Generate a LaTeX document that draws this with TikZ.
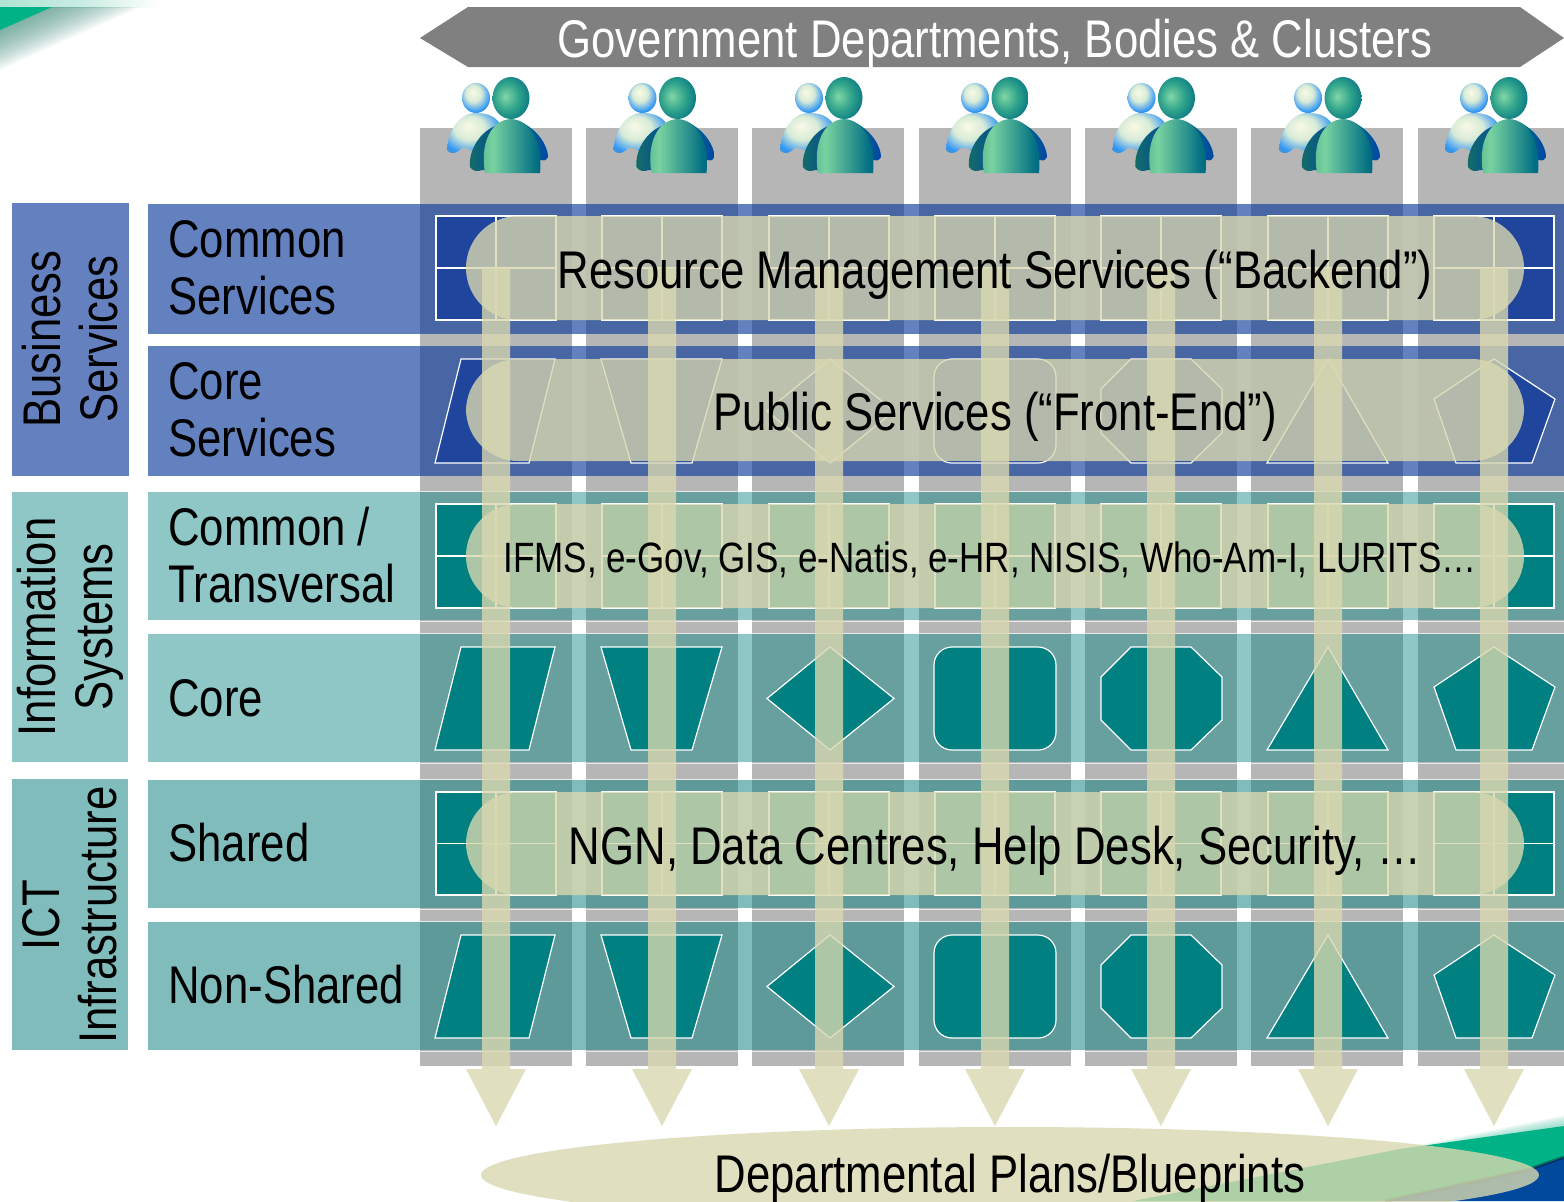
\documentclass[tikz,border=0pt]{standalone}
\usepackage{fontspec}
\setmainfont[FakeStretch=0.825]{Liberation Sans}
\usetikzlibrary{shapes.geometric}
\definecolor{bandblue}{RGB}{13,58,155}
\definecolor{bandteal}{RGB}{17,134,134}
\definecolor{bandtealb}{RGB}{17,130,130}
\definecolor{lblblue}{RGB}{100,128,191}
\definecolor{lblteal}{RGB}{143,198,198}
\definecolor{lblteal2}{RGB}{128,188,188}
\definecolor{colgray}{RGB}{182,182,182}
\definecolor{shblue}{RGB}{31,69,156}
\definecolor{shteal}{RGB}{0,128,128}
\definecolor{beige}{RGB}{217,216,176}
\definecolor{topgray}{RGB}{128,128,128}
\definecolor{cornergreen}{RGB}{0,178,134}
\definecolor{cornerblue}{RGB}{0,72,155}
\definecolor{stripgreen}{RGB}{176,228,212}
\definecolor{fa}{RGB}{130,215,165}
\definecolor{fb}{RGB}{50,165,140}
\definecolor{fc}{RGB}{0,110,130}
\definecolor{fd}{RGB}{0,70,165}
\definecolor{fe}{RGB}{0,60,110}
\definecolor{ba}{RGB}{250,250,230}
\definecolor{bb}{RGB}{215,235,215}
\definecolor{bc}{RGB}{50,150,245}
\definecolor{bd}{RGB}{100,135,120}
\definecolor{be}{RGB}{110,115,80}
\definecolor{armmid}{RGB}{120,215,165}
\definecolor{armdark}{RGB}{20,110,100}
\definecolor{bodyleft}{RGB}{30,130,110}
\definecolor{bodymid}{RGB}{120,210,160}
\definecolor{bodyright}{RGB}{0,60,150}
\pgfdeclareradialshading{frontball}{\pgfpoint{-8bp}{2bp}}{color(0bp)=(fa); color(16bp)=(fb); color(34bp)=(fc); color(52bp)=(fd); color(70bp)=(fe)}
\pgfdeclareradialshading{backball}{\pgfpoint{-6bp}{10bp}}{color(0bp)=(ba); color(14bp)=(bb); color(28bp)=(bc); color(44bp)=(bd); color(60bp)=(be)}
\pgfdeclarehorizontalshading{bodyshade}{100bp}{color(0bp)=(bodyleft); color(35bp)=(bodymid); color(70bp)=(fc); color(100bp)=(bodyright)}
\tikzset{
  band/.style={fill=#1,fill opacity=.64,draw=none},
  tband/.style={fill=#1,fill opacity=.47,draw=none},
  tbandb/.style={fill=#1,fill opacity=.534,draw=none},
  sideblock/.style={fill=#1,draw=none},
  cellshape/.style={fill=#1,draw=white,line width=.6pt},
  pill/.style={fill=beige,fill opacity=.8,draw=none,rounded corners=26pt},
  flow/.style={fill=beige,fill opacity=.8,draw=none},
  big/.style={font=\fontsize{26.5}{28.5}\selectfont,inner sep=0pt},
  small/.style={font=\fontsize{21.2}{24}\selectfont,inner sep=0pt},
  rowlabel/.style={big,anchor=west,align=left},
  sidelabel/.style={big,rotate=90,align=center},
}
\newcommand{\gridcell}[4]{%
  \draw[cellshape=#4] (#1-60,#2) rectangle (#1+60,#3);
  \draw[white,line width=.6pt] (#1,#2) -- (#1,#3) (#1-60,{(#2+#3)/2}) -- (#1+60,{(#2+#3)/2});}
\newcommand{\corerow}[3]{%
  \draw[cellshape=#3] (461,#1) -- (555,#1) -- (529,#2) -- (435,#2) -- cycle;
  \draw[cellshape=#3] (601,#1) -- (722,#1) -- (692,#2) -- (631,#2) -- cycle;
  \draw[cellshape=#3] (830,#1) -- (894,{(#1+#2)/2}) -- (830,#2) -- (767,{(#1+#2)/2}) -- cycle;
  \draw[cellshape=#3,rounded corners=9pt] (934,#1) rectangle (1056,#2);
  \draw[cellshape=#3] (1131,#1) -- (1191,#1) -- (1222,#1+30) -- (1222,#2-30) -- (1191,#2) -- (1131,#2) -- (1101,#2-30) -- (1101,#1+30) -- cycle;
  \draw[cellshape=#3] (1328,#1) -- (1388,#2) -- (1267,#2) -- cycle;
  \draw[cellshape=#3] (1494,#1) -- (1555,#1+40) -- (1532,#2) -- (1456,#2) -- (1434,#1+40) -- cycle;}
\newcommand{\people}[1]{%
 \begin{scope}[xshift=#1*0.5pt]
  % back figure
  \shade[shading=backball] (-49,150) .. controls (-48,132) and (-38,113) .. (-20,113) .. controls (-6,113) and (2,118) .. (6,128) -- (-14,156) .. controls (-22,152) and (-30,146) .. (-34,148) .. controls (-38,152) and (-44,156) .. (-49,150) -- cycle;
  \shade[shading=backball] (-20,98) ellipse[x radius=14,y radius=15];
  % front arms, body, head
  \shade[left color=fc,right color=fd] (25,122) .. controls (42,130) and (52,146) .. (52,157) .. controls (50,161) and (47,161) .. (44,160) -- (25,160) -- cycle;
  \shade[left color=armdark,middle color=armmid,right color=fd] (-26,167) .. controls (-28,150) and (-14,126) .. (8,124) -- (8,170) -- (-14,170) .. controls (-18,172) and (-24,171) .. (-26,167) -- cycle;
  \shade[shading=bodyshade] (-11,173) .. controls (-16,145) and (-6,120) .. (15,119) .. controls (36,120) and (47,145) .. (44,173) -- cycle;
  \shade[shading=frontball] (15,98) ellipse[x radius=18.5,y radius=21];
 \end{scope}}
\begin{document}
\begin{tikzpicture}[x=0.5pt,y=-0.5pt]
\useasboundingbox (0,0) rectangle (1564,1201);
\fill[white] (0,0) rectangle (1564,1201);
% corner decoration, top left
\shade[left color=stripgreen,right color=white,middle color=stripgreen!70!white] (0,0) rectangle (160,7);
\foreach \k in {1,...,18}
  \fill[gray!60!cornergreen,opacity=.06] (0,7) -- (50+5*\k,7) -- (0,30+2.2*\k) -- cycle;
\fill[cornergreen] (0,7) -- (52,7) -- (0,30) -- cycle;
% corner decoration, bottom right
\foreach \k in {1,...,12}
  \fill[cornergreen!60!white,opacity=.07] (1400,1155-.5*\k) -- (1564,1126-\k*.9) -- (1564,1157) -- cycle;
\fill[cornergreen] (1133,1201) -- (1400,1149) -- (1564,1126) -- (1564,1157) -- (1530,1169) -- (1385,1201) -- cycle;
\fill[cornerblue] (1385,1201) -- (1530,1169) -- (1564,1157) -- (1564,1201) -- cycle;
\draw[black,opacity=.35,line width=1.5pt] (1385,1201) -- (1530,1169) -- (1564,1157);
% top banner
\fill[topgray] (420,38) -- (468,7) -- (1520,7) -- (1564,38) -- (1520,67) -- (468,67) -- cycle;
% columns
\foreach \a/\b in {420/572,586/738,752/904,919/1071,1085/1237,1251/1403,1418/1564}
  \fill[colgray] (\a,128) rectangle (\b,1066);
% people
\foreach \c in {496,662.5,829,995,1161.5,1328,1494} {\people{\c}}
% side blocks
\fill[sideblock=lblblue] (12,203) rectangle (129,476);
\fill[sideblock=lblteal] (12,492) rectangle (128,762);
\fill[sideblock=lblteal2] (12,779) rectangle (128,1050);
% bands
\fill[band=bandblue] (148,204) rectangle (1564,334);
\fill[band=bandblue] (148,346) rectangle (1564,476);
\fill[tband=bandteal] (148,492) rectangle (1564,620);
\fill[tband=bandteal] (148,634) rectangle (1564,762);
\fill[tbandb=bandtealb] (148,780) rectangle (1564,908);
\fill[tbandb=bandtealb] (148,922) rectangle (1564,1050);
\foreach \y in {491,621,633,763,779,909,921,1051}
  \draw[white,opacity=.7,line width=.5pt] (148,\y) -- (1564,\y);
% cell shapes
\foreach \c in {496,662,829,995,1161,1328,1494} {
  \gridcell{\c}{216}{320}{shblue}
  \gridcell{\c}{504}{608}{shteal}
  \gridcell{\c}{792}{895}{shteal}
}
\corerow{359}{463}{shblue}
\corerow{647}{750}{shteal}
\corerow{935}{1038}{shteal}
% pills
\foreach \t/\b in {216/320,359/461,504/608,792/895}
  \fill[pill] (466,\t) rectangle (1524,\b);
% down arrows
\foreach \c in {496,662,829,995,1161,1328,1494}
  \fill[flow] (\c-14,268) -- (\c+14,268) -- (\c+14,1069) -- (\c+30,1069) -- (\c,1126) -- (\c-30,1069) -- (\c-14,1069) -- cycle;
% bottom ellipse
\fill[flow] (1010,1175) ellipse[x radius=529,y radius=48];
% texts
\node[big,white] (bannertext) at (995,44) {Government Departments, Bodies \& Clusters};
\node[sidelabel] (bs) at (70,339) {Business\\Services};
\node[sidelabel] (is) at (70,627) {Information\\Systems};
\node[sidelabel] (ict) at (70,915) {ICT\\Infrastructure};
\node[rowlabel] (r1) at (168,268) {Common\\Services};
\node[rowlabel] (r2) at (168,410) {Core\\Services};
\node[rowlabel] (r3) at (168,555) {Common /\\Transversal};
\node[rowlabel] (r4) at (168,698) {Core};
\node[rowlabel] (r5) at (168,843) {Shared};
\node[rowlabel] (r6) at (168,985) {Non-Shared};
\node[big] (p1) at (995,275) {Resource Management Services (“Backend”)};
\node[big] (p2) at (995,417) {Public Services (“Front-End”)};
\node[small] (p3) at (990,560) {IFMS, e-Gov, GIS, e-Natis, e-HR, NISIS, Who-Am-I, LURITS…};
\node[big] (p4) at (995,851) {NGN, Data Centres, Help Desk, Security, …};
\node[big] (p5) at (1010,1179) {Departmental Plans/Blueprints};
\end{tikzpicture}
\end{document}
